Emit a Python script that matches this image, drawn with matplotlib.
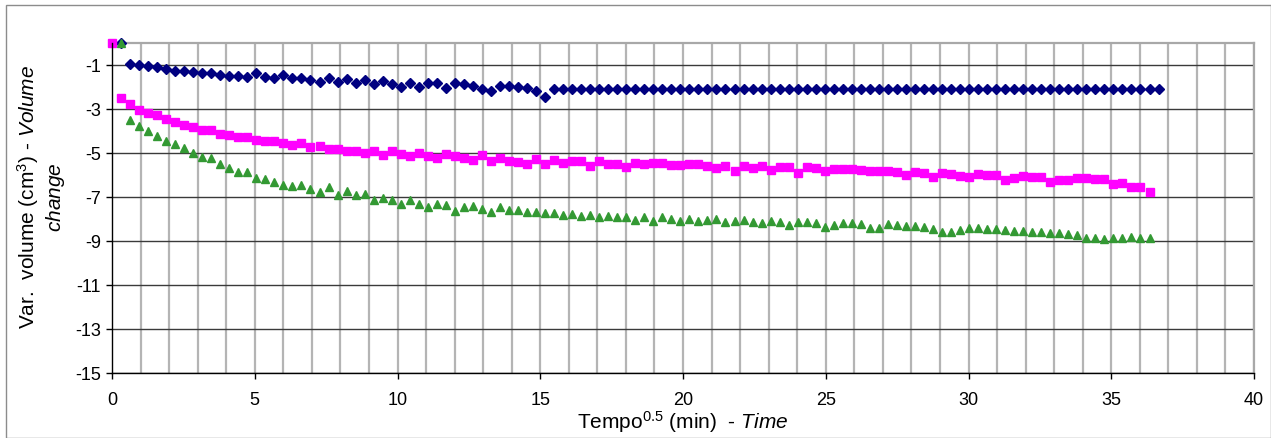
import numpy as np
import matplotlib
matplotlib.use("Agg")
import matplotlib.pyplot as plt
from matplotlib.patches import Rectangle

plt.rcParams['font.family'] = ['Liberation Sans', 'DejaVu Sans']
plt.rcParams['mathtext.fontset'] = 'custom'
plt.rcParams['mathtext.rm'] = 'Liberation Sans'
plt.rcParams['mathtext.it'] = 'Liberation Sans:italic'
plt.rcParams['mathtext.bf'] = 'Liberation Sans:bold'

# sampling step of sqrt(time) (points are evenly spaced)
x_step = 0.316

# series 1 (navy diamonds), starts at sample index 1
blue_start = 1
blue = [0, -0.94, -0.98, -1.06, -1.09, -1.18, -1.26, -1.29, -1.33, -1.38,
        -1.38, -1.45, -1.48, -1.48, -1.53, -1.36, -1.53, -1.61, -1.45, -1.61,
        -1.61, -1.68, -1.76, -1.61, -1.76, -1.65, -1.83, -1.67, -1.88, -1.71,
        -1.88, -2.00, -1.83, -2.00, -1.80, -1.83, -2.03, -1.83, -1.86, -1.95,
        -2.08, -2.20, -1.94, -1.94, -2.02, -2.06, -2.17, -2.45] + [-2.1] * 68

# series 2 (magenta squares), starts at sample index 0
pink_start = 0
pink = [0, -2.52, -2.79, -3.03, -3.17, -3.26, -3.44, -3.59, -3.71, -3.83,
        -3.94, -3.97, -4.14, -4.18, -4.29, -4.26, -4.39, -4.44, -4.44, -4.56,
        -4.64, -4.56, -4.73, -4.68, -4.83, -4.80, -4.92, -4.92, -5.02, -4.91,
        -5.08, -4.91, -5.03, -5.15, -4.98, -5.12, -5.24, -5.03, -5.12, -5.23,
        -5.30, -5.11, -5.35, -5.23, -5.35, -5.39, -5.50, -5.27, -5.50, -5.30,
        -5.45, -5.35, -5.35, -5.59, -5.38, -5.50, -5.50, -5.62, -5.47, -5.50,
        -5.47, -5.47, -5.55, -5.55, -5.50, -5.50, -5.58, -5.70, -5.58, -5.83,
        -5.61, -5.70, -5.61, -5.77, -5.65, -5.65, -5.89, -5.65, -5.70, -5.82,
        -5.74, -5.74, -5.74, -5.79, -5.82, -5.82, -5.82, -5.86, -5.98, -5.86,
        -5.89, -6.09, -5.89, -5.94, -6.05, -6.09, -5.97, -6.00, -6.00, -6.23,
        -6.15, -6.05, -6.09, -6.09, -6.33, -6.24, -6.24, -6.15, -6.15, -6.20,
        -6.20, -6.39, -6.36, -6.55, -6.55, -6.79]

# series 3 (green triangles), starts at sample index 1
green_start = 1
green = [0, -3.52, -3.79, -4.02, -4.21, -4.45, -4.59, -4.79, -5.00, -5.20,
         -5.24, -5.50, -5.70, -5.86, -5.86, -6.12, -6.17, -6.33, -6.44, -6.52,
         -6.44, -6.64, -6.76, -6.56, -6.92, -6.73, -6.92, -6.86, -7.15, -7.03,
         -7.12, -7.30, -7.15, -7.30, -7.47, -7.30, -7.35, -7.62, -7.47, -7.41,
         -7.55, -7.67, -7.47, -7.61, -7.61, -7.67, -7.67, -7.74, -7.73, -7.83,
         -7.77, -7.88, -7.82, -7.91, -7.88, -7.91, -7.91, -8.03, -7.92, -8.08,
         -7.92, -8.00, -8.08, -8.00, -8.08, -8.03, -8.00, -8.15, -8.08, -8.05,
         -8.12, -8.20, -8.08, -8.12, -8.27, -8.12, -8.15, -8.20, -8.35, -8.27,
         -8.20, -8.20, -8.23, -8.39, -8.39, -8.24, -8.27, -8.32, -8.32, -8.35,
         -8.45, -8.58, -8.58, -8.52, -8.42, -8.42, -8.45, -8.47, -8.52, -8.55,
         -8.55, -8.59, -8.59, -8.62, -8.62, -8.67, -8.71, -8.85, -8.85, -8.91,
         -8.85, -8.85, -8.82, -8.85, -8.88]

x_ticks = [0, 5, 10, 15, 20, 25, 30, 35, 40]
y_ticks = [-15, -13, -11, -9, -7, -5, -3, -1]


def xs(start, vals):
    return (np.arange(len(vals)) + start) * x_step


W, H = 1271, 439
fig = plt.figure(figsize=(W / 100, H / 100), dpi=100)
ax = fig.add_axes([112 / W, 1 - 374 / H, (1254 - 112) / W, (374 - 44) / H])

ax.set_xlim(0, 40)
ax.set_ylim(-15, 0)

# grid
for xv in range(1, 41):
    ax.axvline(xv, color='#b4b4b4', lw=1.6, zorder=1)
for yv in y_ticks:
    ax.axhline(yv, color='#3a3a3a', lw=1.0, zorder=1.5)

ax.plot(xs(blue_start, blue), blue, ls='none', marker='D', ms=4.6,
        color='#000080', mec='#000080', zorder=3, clip_on=False)
ax.plot(xs(pink_start, pink), pink, ls='none', marker='s', ms=5.6,
        color='#ff00ff', mec='#ff00ff', zorder=3, clip_on=False)
ax.plot(xs(green_start, green), green, ls='none', marker='^', ms=5.4,
        color='#339933', mec='#339933', zorder=4, clip_on=False)

ax.set_xticks(x_ticks)
ax.set_yticks(y_ticks)
ax.set_xticklabels([str(v) for v in x_ticks])
ax.set_yticklabels([str(v) for v in y_ticks])
ax.tick_params(axis='both', direction='out', length=4, width=1,
               labelsize=13, color='black')
ax.tick_params(axis='x', pad=9)
ax.tick_params(axis='y', pad=4)

for s in ['top', 'right']:
    ax.spines[s].set_color('#a8a8a8')
    ax.spines[s].set_linewidth(1.6)
for s in ['left', 'bottom']:
    ax.spines[s].set_color('black')
    ax.spines[s].set_linewidth(1.0)
    ax.spines[s].set_zorder(5)

ax.set_xlabel(r"Tempo$^{0.5}$ (min)  - $\mathit{Time}$", fontsize=15, labelpad=0)
fig.text(41 / W, 1 - 197 / H,
         "Var.  volume (cm$^3$) - $\\mathit{Volume}$\n$\\mathit{change}$",
         rotation=90, ha='center', va='center', fontsize=15,
         multialignment='center', linespacing=1.15)

fig.patches.append(Rectangle((6 / W, 0), 1 - 6 / W, 1 - 6 / H,
                             transform=fig.transFigure, fill=False,
                             edgecolor='#8c8c8c', lw=1.0))

fig.savefig('out.png', dpi=100)
